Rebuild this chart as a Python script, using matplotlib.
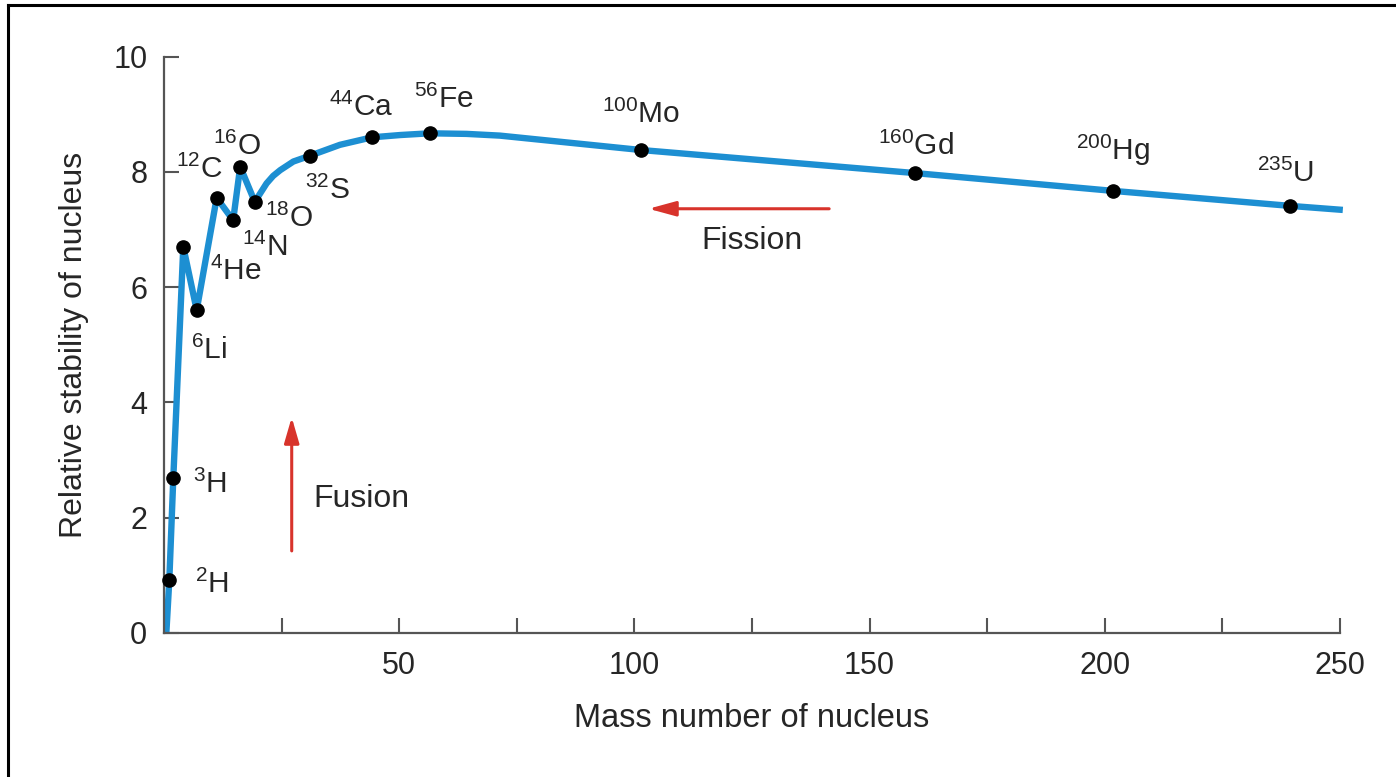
import matplotlib
matplotlib.use("Agg")
import matplotlib.pyplot as plt
from matplotlib.lines import Line2D

plt.rcParams['font.family'] = ['Liberation Sans', 'DejaVu Sans']
plt.rcParams['mathtext.fontset'] = 'custom'
plt.rcParams['mathtext.rm'] = 'Liberation Sans'
plt.rcParams['mathtext.it'] = 'Liberation Sans:italic'
plt.rcParams['mathtext.bf'] = 'Liberation Sans:bold'

# ---- data ----
curve_mass = [0.5, 1.13, 1.98, 4.1, 6.95, 11.2, 14.7, 16.2, 19.3, 20.4, 21.8, 23.2, 24.7, 27.5,
              31.0, 37.4, 44.2, 50.2, 56.5, 64.3, 71.4, 101.4, 159.6, 201.8, 239.4, 250.6]
curve_stability = [0.0, 0.915, 2.69, 6.70, 5.60, 7.55, 7.16, 8.09, 7.48, 7.62, 7.80, 7.93, 8.03, 8.18,
                   8.28, 8.47, 8.60, 8.64, 8.67, 8.66, 8.63, 8.38, 7.98, 7.67, 7.41, 7.34]

nuclide_labels = [r'$^{2}$H', r'$^{3}$H', r'$^{4}$He', r'$^{6}$Li', r'$^{12}$C', r'$^{14}$N',
                  r'$^{16}$O', r'$^{18}$O', r'$^{32}$S', r'$^{44}$Ca', r'$^{56}$Fe',
                  r'$^{100}$Mo', r'$^{160}$Gd', r'$^{200}$Hg', r'$^{235}$U']
nuclide_mass = [1.13, 1.98, 4.1, 6.95, 11.2, 14.7, 16.2, 19.3, 31.0, 44.2, 56.5,
                101.4, 159.6, 201.8, 239.4]
nuclide_stability = [0.915, 2.69, 6.70, 5.60, 7.55, 7.16, 8.09, 7.48, 8.28, 8.60, 8.67,
                     8.38, 7.98, 7.67, 7.41]

x_major_ticks = [50, 100, 150, 200, 250]
x_minor_ticks = [25, 75, 125, 175, 225]
y_ticks = [0, 2, 4, 6, 8, 10]

# label offsets in pixels (layout)
label_offsets = [(26, -13), (20, -15), (27, -33), (-6, -49), (-41, 20), (9, -36),
                 (-27, 12), (10, -25), (-5, -43), (-43, 21), (-16, 25),
                 (-39, 27), (-37, 18), (-37, 31), (-33, 24)]

BLUE = '#1d8fd2'
RED = '#d8332b'
TXT = '#262626'
AX = '#555555'

fig = plt.figure(figsize=(13.96, 7.77), dpi=100)
ax = fig.add_axes([164 / 1396, (777 - 632.7) / 777, 1176 / 1396, 576 / 777])

ax.plot(curve_mass, curve_stability, color=BLUE, lw=4.6, solid_joinstyle='round',
        solid_capstyle='butt', clip_on=False, zorder=2)
ax.plot(nuclide_mass, nuclide_stability, 'o', color='black', ms=9.5, zorder=3, clip_on=False)

for lab, x, y, (dx, dy) in zip(nuclide_labels, nuclide_mass, nuclide_stability, label_offsets):
    ax.annotate(lab, xy=(x, y), xytext=(dx, dy), textcoords='offset pixels',
                ha='left', va='baseline', fontsize=21.5, color=TXT)

# Fission / Fusion arrows
ax.annotate('', xy=(103.0, 7.36), xytext=(141.4, 7.36),
            arrowprops=dict(arrowstyle='-|>,head_length=1.65,head_width=0.45',
                            mutation_scale=10, color=RED, lw=2.2, shrinkA=0, shrinkB=0))
ax.text(125, 6.67, 'Fission', ha='center', va='baseline', fontsize=23, color=TXT)
ax.annotate('', xy=(27.15, 3.74), xytext=(27.15, 1.42),
            arrowprops=dict(arrowstyle='-|>,head_length=1.55,head_width=0.45',
                            mutation_scale=10, color=RED, lw=2.2, shrinkA=0, shrinkB=0))
ax.text(31.7, 2.18, 'Fusion', ha='left', va='baseline', fontsize=23, color=TXT)

ax.set_xlim(0, 250)
ax.set_ylim(0, 10)
ax.set_xticks(x_major_ticks)
ax.set_xticks(x_minor_ticks, minor=True)
ax.set_yticks(y_ticks)
ax.tick_params(axis='both', which='both', direction='in', length=11, width=1.5, color=AX,
               labelsize=22, labelcolor=TXT)
ax.tick_params(axis='x', pad=13)
ax.tick_params(axis='y', pad=12)

for s in ['top', 'right']:
    ax.spines[s].set_visible(False)
for s in ['left', 'bottom']:
    ax.spines[s].set_color(AX)
    ax.spines[s].set_linewidth(1.6)

ax.set_xlabel('Mass number of nucleus', fontsize=23.5, color=TXT)
ax.set_ylabel('Relative stability of nucleus', fontsize=23, color=TXT)
ax.xaxis.set_label_coords(0.5, (632.7 - 703) / 576)
ax.yaxis.set_label_coords((89.5 - 164) / 1176, 0.5)

# frame lines (left and top) of the figure
fig.add_artist(Line2D([7.8 / 1396, 7.8 / 1396], [0, 1 - 5 / 777], transform=fig.transFigure,
                      color='black', lw=2.2, solid_capstyle='projecting'))
fig.add_artist(Line2D([7.8 / 1396, 1], [1 - 5 / 777, 1 - 5 / 777], transform=fig.transFigure,
                      color='black', lw=2.2, solid_capstyle='projecting'))

fig.savefig('out.png', dpi=100)
